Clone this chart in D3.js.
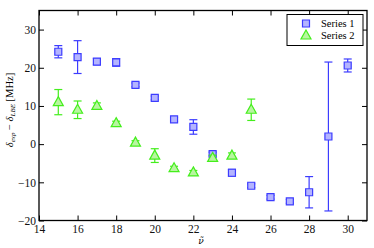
<!DOCTYPE html>
<html>
<head>
<meta charset="utf-8">
<script src="https://cdn.jsdelivr.net/npm/d3@7"></script>
<style>
  body { margin: 0; background: #fff; }
  svg text { font-family: "Liberation Serif", "DejaVu Serif", serif; }
</style>
</head>
<body>
<div id="chart"></div>
<script>
    // values
    var xs1 = [15, 16, 17, 18, 19, 20, 21, 22, 23, 24, 25, 26, 27, 28, 29, 30],
        ys1 = [24.2, 22.8, 21.6, 21.4, 15.5, 12.1, 6.5, 4.5, -2.6, -7.5, -10.9, -13.9, -15.0, -12.6, 2.0, 20.6],
        err1 = [1.6, 4.3, 0.8, 1.0, 0.5, 0.5, 0.5, 1.9, 0.5, 0.9, 0.5, 0.5, 0.5, 4.1, 19.5, 1.7];

    var xs2 = [15, 16, 17, 18, 19, 20, 21, 22, 23, 24, 25],
        ys2 = [11.0, 9.0, 10.0, 5.5, 0.4, -3.0, -6.3, -7.4, -3.6, -3.0, 9.0],
        err2 = [3.3, 2.3, 0.8, 0.5, 0.5, 1.8, 0.5, 0.5, 0.7, 0.7, 2.8];

    var xTicks = [14, 16, 18, 20, 22, 24, 26, 28, 30],
        yTicks = [-20, -10, 0, 10, 20, 30];

    var seriesNames = ["Series 1", "Series 2"];

    // plot box (note: "top" is taken by window, so use pad names)
    var w = 374, h = 248,
        padL = 39, padR = 367, padT = 10.5, padB = 220.5;

    var blue = "#3c3cff", blueFill = "#b4b4ff",
        green = "#44ee1c", greenFill = "#b8f5a0";

    var x = d3.scaleLinear().domain([14, 31]).range([padL, padR]),
        y = d3.scaleLinear().domain([-20, 35]).range([padB, padT]);

    var svg = d3.select("#chart").append("svg")
        .attr("width", w)
        .attr("height", h);

    // axes with ticks pointing inward, on all four sides
    function styleAxis(g) {
        g.select(".domain").remove();
        g.selectAll("line").attr("stroke", "#000").attr("stroke-width", 1);
        g.selectAll("text").attr("font-size", 11.5).attr("fill", "#111");
    }

    svg.append("g")
        .attr("transform", "translate(0," + padB + ")")
        .call(d3.axisBottom(x).tickValues(xTicks).tickSize(-5).tickPadding(4))
        .call(styleAxis);

    svg.append("g")
        .attr("transform", "translate(0," + padT + ")")
        .call(d3.axisTop(x).tickValues(xTicks).tickSize(-5).tickFormat(""))
        .call(styleAxis);

    svg.append("g")
        .attr("transform", "translate(" + padL + ",0)")
        .call(d3.axisLeft(y).tickValues(yTicks).tickSize(-5).tickPadding(3)
            .tickFormat(function(d) { return d < 0 ? "\u2212" + (-d) : d; }))
        .call(styleAxis);

    svg.append("g")
        .attr("transform", "translate(" + padR + ",0)")
        .call(d3.axisRight(y).tickValues(yTicks).tickSize(-5).tickFormat(""))
        .call(styleAxis);

    svg.append("rect")
        .attr("x", padL).attr("y", padT)
        .attr("width", padR - padL).attr("height", padB - padT)
        .attr("fill", "none").attr("stroke", "#000").attr("stroke-width", 1.3);

    // error bars then markers
    function drawSeries(xs, ys, errs, color, fill, shape) {
        var g = svg.append("g");
        var cap = 4;
        xs.forEach(function(xv, i) {
            var cx = x(xv), lo = y(ys[i] - errs[i]), hi = y(ys[i] + errs[i]);
            g.append("line").attr("x1", cx).attr("x2", cx).attr("y1", lo).attr("y2", hi)
                .attr("stroke", color).attr("stroke-width", 1.2);
            [lo, hi].forEach(function(yy) {
                g.append("line").attr("x1", cx - cap).attr("x2", cx + cap).attr("y1", yy).attr("y2", yy)
                    .attr("stroke", color).attr("stroke-width", 1.2);
            });
        });
        g.selectAll("path.m")
            .data(xs)
            .enter().append("path")
            .attr("class", "m")
            .attr("d", shape)
            .attr("transform", function(d, i) { return "translate(" + x(d) + "," + y(ys[i]) + ")"; })
            .attr("fill", fill)
            .attr("stroke", color)
            .attr("stroke-width", 1.2);
    }

    var square = "M-3.5,-3.5H3.5V3.5H-3.5Z",
        triangle = "M0,-5.5L5,3.5H-5Z";

    drawSeries(xs1, ys1, err1, blue, blueFill, square);
    drawSeries(xs2, ys2, err2, green, greenFill, triangle);

    // legend
    var lg = svg.append("g").attr("transform", "translate(287,14.5)");
    lg.append("rect").attr("width", 76).attr("height", 31)
        .attr("fill", "#fff").attr("stroke", "#000").attr("stroke-width", 1);
    [[square, blue, blueFill], [triangle, green, greenFill]].forEach(function(s, i) {
        lg.append("path").attr("d", s[0])
            .attr("transform", "translate(19," + (9 + i * 12) + ")")
            .attr("fill", s[2]).attr("stroke", s[1]).attr("stroke-width", 1.2);
        lg.append("text").attr("x", 34).attr("y", 12.5 + i * 12)
            .attr("font-size", 10.5).text(seriesNames[i]);
    });

    // axis labels
    var yl = svg.append("text")
        .attr("transform", "translate(13,110) rotate(-90)")
        .attr("text-anchor", "middle")
        .attr("font-size", 10.5);
    yl.append("tspan").attr("font-style", "italic").text("\u03b4");
    yl.append("tspan").attr("font-style", "italic").attr("font-size", 7).attr("dy", 2).text("exp");
    yl.append("tspan").attr("dy", -2).text(" \u2212 ");
    yl.append("tspan").attr("font-style", "italic").text("\u03b4");
    yl.append("tspan").attr("font-style", "italic").attr("font-size", 7).attr("dy", 2).text("LBE");
    yl.append("tspan").attr("dy", -2).text(" [MHz]");

    // nu with combining tilde; DejaVu places the mark properly
    svg.append("text")
        .attr("x", 201).attr("y", 244)
        .attr("text-anchor", "middle")
        .attr("font-size", 9)
        .style("font-family", "'DejaVu Serif', serif")
        .attr("font-style", "italic")
        .text("\u03bd\u0303");
</script>
</body>
</html>
